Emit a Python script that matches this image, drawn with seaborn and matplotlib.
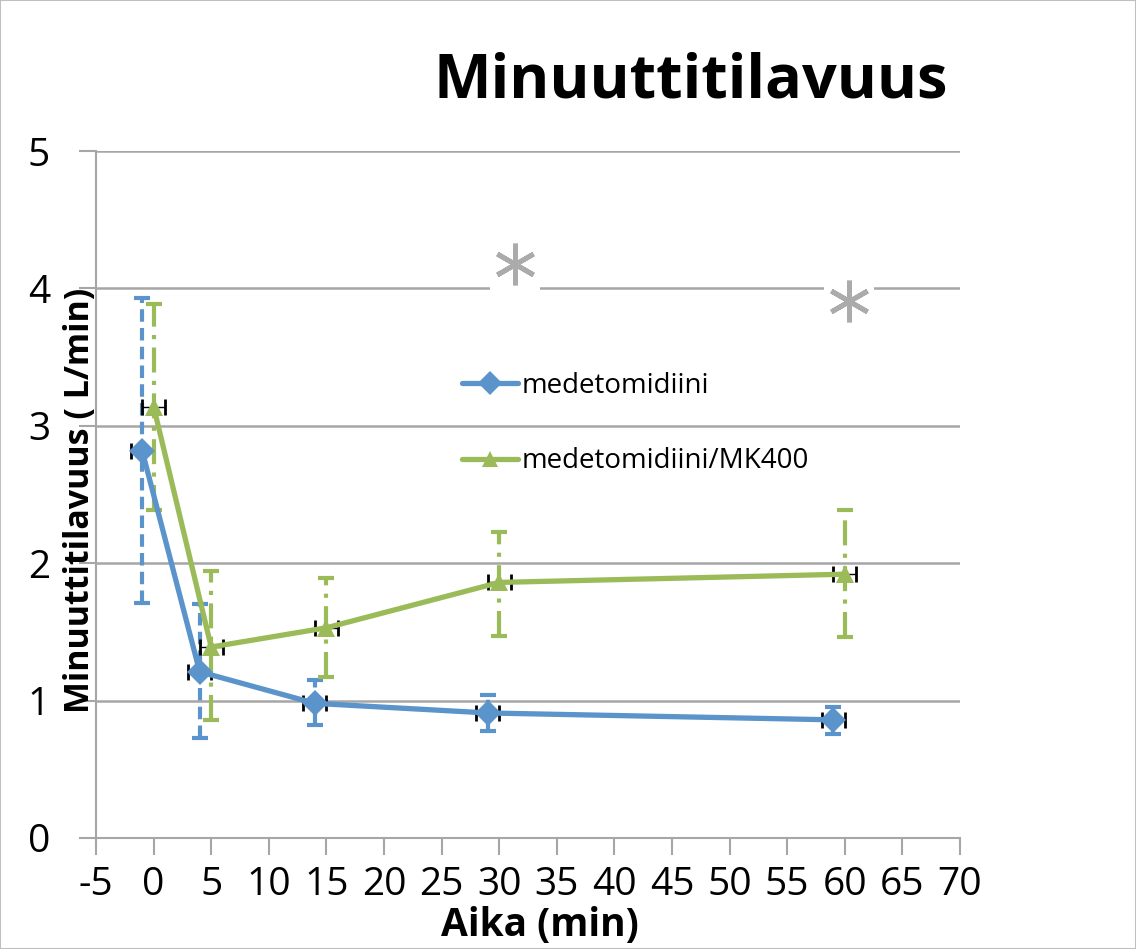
import matplotlib
matplotlib.use("Agg")
import matplotlib.pyplot as plt
import seaborn as sns
import pandas as pd
import numpy as np

# ---- data ----
blue_label = "medetomidiini"
green_label = "medetomidiini/MK400"
blue_x = [-1, 4, 14, 29, 59]
blue_y = [2.82, 1.21, 0.98, 0.91, 0.86]
blue_lo = [1.71, 0.73, 0.82, 0.78, 0.76]
blue_hi = [3.93, 1.70, 1.15, 1.04, 0.95]
green_x = [0, 5, 15, 30, 60]
green_y = [3.14, 1.39, 1.53, 1.86, 1.92]
green_lo = [2.39, 0.86, 1.17, 1.47, 1.46]
green_hi = [3.89, 1.94, 1.89, 2.23, 2.39]
x_err = 1.0
star_x = [31.4, 60.4]
star_y = [4.18, 3.91]
x_ticks = list(range(-5, 71, 5))
y_ticks = [0, 1, 2, 3, 4, 5]

title = "Minuuttitilavuus"
ylabel = "Minuuttitilavuus ( L/min)"
xlabel = "Aika (min)"

BLUE = "#5b93cb"
GREEN = "#9bbb59"
GRID = "#a6a6a6"

sns.set_style("white")
plt.rcParams['font.family'] = ['Open Sans', 'DejaVu Sans']
plt.rcParams['text.color'] = 'black'
plt.rcParams['axes.labelcolor'] = 'black'
plt.rcParams['xtick.color'] = GRID
plt.rcParams['ytick.color'] = GRID
plt.rcParams['xtick.labelcolor'] = 'black'
plt.rcParams['ytick.labelcolor'] = 'black'
plt.rcParams['axes.unicode_minus'] = False

W, H = 1136, 949
fig = plt.figure(figsize=(W/100, H/100), dpi=100)
ax = fig.add_axes([96/W, 1-838/H, (960-96)/W, (838-151)/H])

df = pd.concat([
    pd.DataFrame({"x": blue_x, "y": blue_y, "s": blue_label}),
    pd.DataFrame({"x": green_x, "y": green_y, "s": green_label}),
])

# error bars
def draw_err(xs, ys, lo, hi, color, ls):
    ys = np.array(ys); lo = np.array(lo); hi = np.array(hi)
    yerr = np.vstack([ys - lo, hi - ys])
    eb = ax.errorbar(xs, ys, yerr=yerr, fmt='none', ecolor=color, elinewidth=3,
                     capsize=6, capthick=3, zorder=2)
    eb[2][0].set_linestyle(ls)
    ax.errorbar(xs, ys, xerr=x_err, fmt='none', ecolor='black', elinewidth=1.0,
                capsize=6, capthick=2, zorder=2)

draw_err(blue_x, blue_y, blue_lo, blue_hi, BLUE, (0, (3, 1.5)))
draw_err(green_x, green_y, green_lo, green_hi, GREEN, (0, (6, 2, 1, 2)))

sns.lineplot(data=df, x="x", y="y", hue="s", style="s",
             palette={blue_label: BLUE, green_label: GREEN},
             markers={blue_label: "D", green_label: "^"},
             dashes=False, linewidth=3.8, markersize=13, markeredgewidth=0,
             ax=ax, zorder=3, sort=False)

ax.set_xlim(-5, 70)
ax.set_ylim(0, 5)
ax.set_xticks(x_ticks)
ax.set_yticks(y_ticks)
ax.tick_params(axis='both', labelsize=28, length=12, width=1.5,
               direction='out', bottom=True, left=True)
ax.tick_params(axis='x', pad=8)
ax.tick_params(axis='y', pad=21)
for sp in ['top', 'right']:
    ax.spines[sp].set_visible(False)
for sp in ['left', 'bottom']:
    ax.spines[sp].set_color(GRID)
    ax.spines[sp].set_linewidth(1.5)
ax.yaxis.grid(True, color=GRID, linewidth=1.8)
ax.set_axisbelow(True)

ax.set_xlabel(xlabel, fontsize=28, fontweight='bold')
ax.xaxis.set_label_coords((540-96)/864, (838-906)/687)
ax.set_ylabel(ylabel, fontsize=24.5, fontweight='bold', va='center')
ax.yaxis.set_label_coords((80-96)/864, (838-500)/687)

fig.text(691/W, 1-98/H, title, fontsize=44, fontweight='bold',
         ha='center', va='baseline')

# asterisks with white background cutting the gridline
ax.plot(star_x, [y - 0.04 for y in star_y], linestyle='none', marker='s',
        markersize=36, color='white', markeredgewidth=0, zorder=4)
ax.plot(star_x, star_y, linestyle='none', marker=(6, 2, 0),
        markersize=30, color='#ababab', markeredgewidth=3.5, zorder=5)

leg = ax.legend(loc='upper left', bbox_to_anchor=((462-96)/864, (838-372)/687),
                frameon=False, fontsize=20, handlelength=2.0,
                handletextpad=0.15, labelspacing=1.7, borderaxespad=0,
                borderpad=0)
for h in leg.legend_handles:
    h.set_linewidth(3.8)
    h.set_markersize(12)

fig.patches.append(plt.Rectangle((0, 0), 1, 1, transform=fig.transFigure,
                                 fill=False, edgecolor='#bfbfbf', linewidth=1.5))

fig.savefig("out.png", dpi=100)
